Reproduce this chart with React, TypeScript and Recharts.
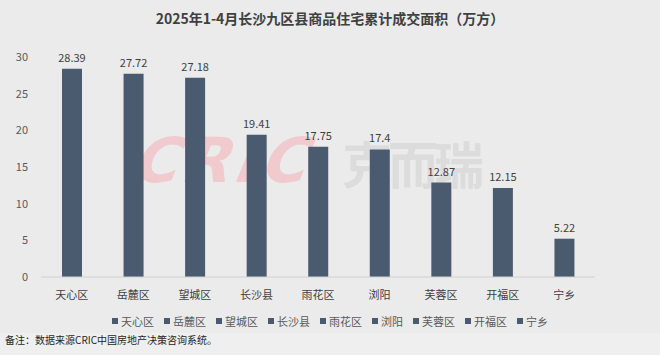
import React from 'react';
import { BarChart, Bar, XAxis, YAxis, LabelList, Legend } from 'recharts';

const categories = ['天心区', '岳麓区', '望城区', '长沙县', '雨花区', '浏阳', '芙蓉区', '开福区', '宁乡'];
const areaValues = [28.39, 27.72, 27.18, 19.41, 17.75, 17.4, 12.87, 12.15, 5.22];
const yTicks = [0, 5, 10, 15, 20, 25, 30];

const title = '2025年1-4月长沙九区县商品住宅累计成交面积（万方）';
const note = '备注：数据来源CRIC中国房地产决策咨询系统。';

const data = categories.map((name, i) => ({ name, value: areaValues[i] }));

const BAR_COLOR = '#4a5a6f';
const FONT = '"Noto Sans CJK SC", "Noto Sans", sans-serif';

const LegendContent = () => (
  <div style={{ display: 'flex', justifyContent: 'center', fontFamily: FONT, fontSize: 11, color: '#595959' }}>
    {categories.map((c) => (
      <div key={c} style={{ display: 'flex', alignItems: 'center', margin: '0 5px' }}>
        <span style={{ display: 'inline-block', width: 6, height: 6, background: BAR_COLOR, marginRight: 3 }} />
        <span>{c}</span>
      </div>
    ))}
  </div>
);

export default function App() {
  return (
    <div style={{ position: 'fixed', left: 0, top: 0, width: 660, height: 355, background: '#ebebeb', overflow: 'hidden', fontFamily: FONT }}>
      <div style={{ position: 'absolute', left: 0, top: 333, width: 660, height: 22, background: '#efefef' }} />
      {/* watermark */}
      <div style={{ position: 'absolute', left: 138, top: 124, fontFamily: '"DejaVu Sans", sans-serif', fontWeight: 900, fontStyle: 'italic', fontSize: 62, color: '#f0cacd', letterSpacing: 4, transform: 'skewX(-12deg)' }}>CRIC</div>
      <div style={{ position: 'absolute', left: 342, top: 126, fontFamily: FONT, fontWeight: 700, fontSize: 50, color: '#dcdcdc', letterSpacing: -4 }}>克而瑞</div>
      <div style={{ position: 'absolute', left: 0, top: 8, width: 660, textAlign: 'center', fontSize: 14, fontWeight: 700, color: '#404040' }}>{title}</div>
      <div style={{ position: 'absolute', left: 5, top: 332, fontSize: 10, color: '#262626' }}>{note}</div>
      <div style={{ position: 'absolute', left: 0, top: 0 }}>
        <BarChart width={660} height={355} data={data} margin={{ top: 57, right: 65, left: 0, bottom: 48 }} barCategoryGap="34%">
          <YAxis
            domain={[0, 30]}
            ticks={yTicks}
            width={41}
            axisLine={false}
            tickLine={false}
            tickSize={0}
            tickMargin={13}
            tick={{ fill: '#595959', fontSize: 11, fontFamily: FONT }}
          />
          <XAxis
            dataKey="name"
            height={30}
            axisLine={{ stroke: '#d0d0d0' }}
            tickLine={false}
            tickSize={0}
            tickMargin={14}
            tick={{ fill: '#404040', fontSize: 11, fontFamily: FONT }}
          />
          <Legend
            layout="horizontal"
            verticalAlign="middle"
            align="center"
            wrapperStyle={{ top: 313, left: 0, width: 660 }}
            content={<LegendContent />}
          />
          <Bar dataKey="value" fill={BAR_COLOR} isAnimationActive={false} barSize={20}>
            <LabelList dataKey="value" position="top" offset={7} style={{ fill: '#404040', fontSize: 11, fontFamily: FONT }} />
          </Bar>
        </BarChart>
      </div>
    </div>
  );
}
